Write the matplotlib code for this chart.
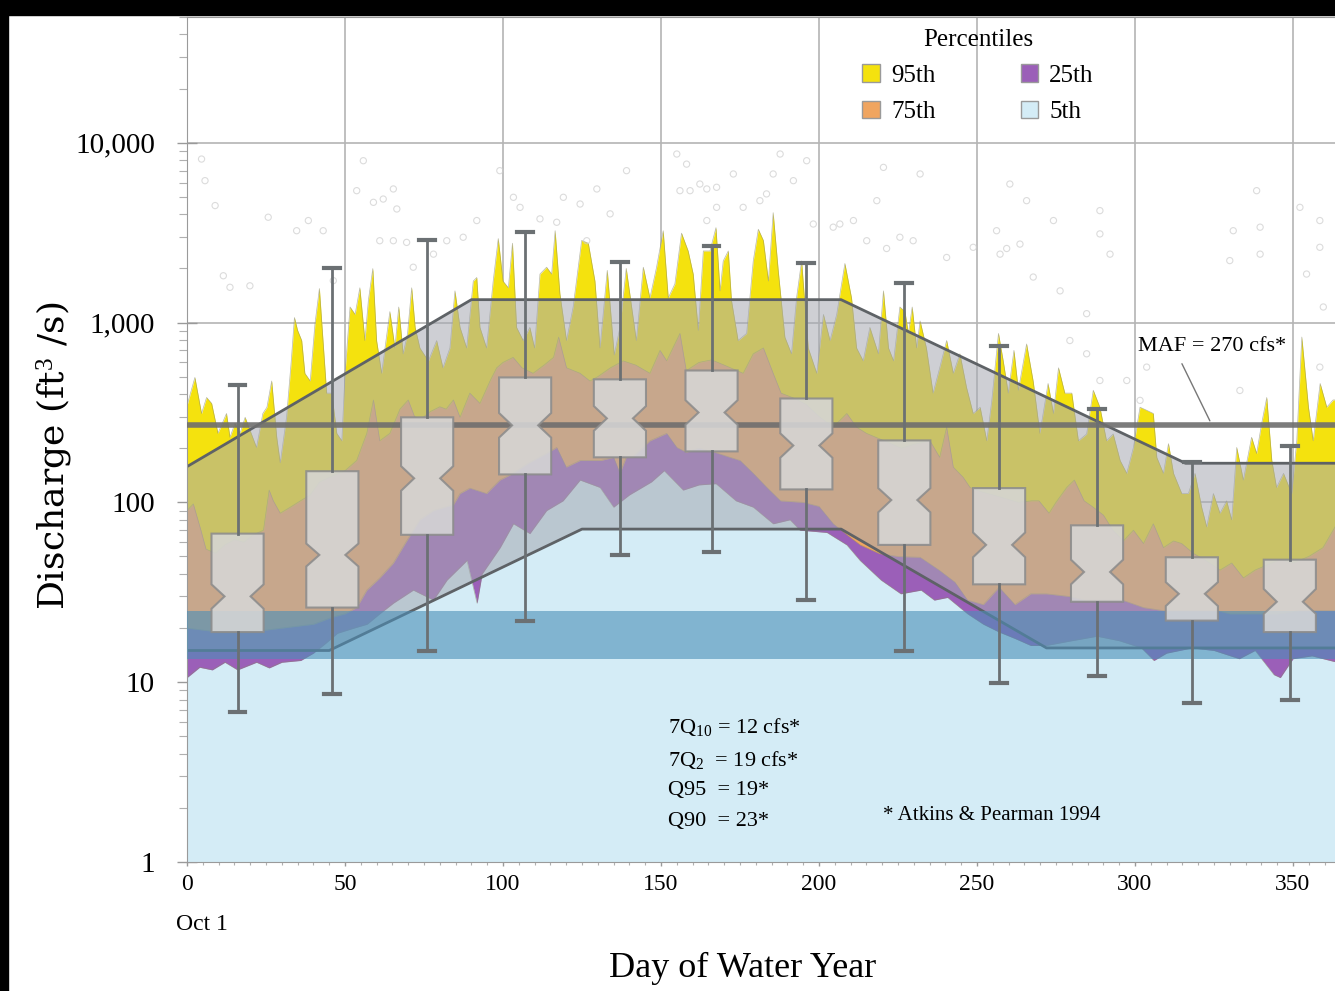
import numpy as np
import matplotlib.pyplot as plt
from matplotlib.patches import Patch, Rectangle
from matplotlib.ticker import FixedLocator, FixedFormatter, LogLocator, MultipleLocator, NullFormatter

plt.rcParams['font.family'] = ['Liberation Serif', 'DejaVu Serif']
plt.rcParams['mathtext.fontset'] = 'custom'
plt.rcParams['mathtext.rm'] = 'Liberation Serif'
plt.rcParams['mathtext.it'] = 'Liberation Serif:italic'

# daily percentile curves, (day of water year, discharge cfs)
p95_pts = [
    (0, 345), (2.5, 495), (4.6, 312), (6.2, 383), (7.8, 355), (9.8, 242), (12.5, 312), (13.6, 230),
    (15.2, 275), (16.8, 242), (18.4, 297), (20, 250), (22, 202), (24, 312), (25.3, 338), (26.8, 473),
    (28.4, 230), (29.5, 166), (31.5, 297), (33, 612), (34, 1066), (35, 905), (36.3, 794), (37.3, 522),
    (39, 473), (40.5, 985), (41.9, 1545), (43.2, 722), (44.2, 405), (45.8, 405), (47.4, 242), (49, 220),
    (50, 522), (51.6, 1220), (53.2, 1110), (54.7, 1560), (56.3, 794), (57.4, 1330), (58.8, 1995), (60, 794),
    (61.6, 522), (63.3, 870), (64.2, 1150), (65.8, 722), (67, 1220), (68.4, 670), (69.8, 870), (71.1, 1560),
    (72.2, 940), (73.7, 722), (76.4, 612), (79, 794), (81, 560), (83.2, 722), (84.8, 1500), (86.4, 940),
    (88.5, 722), (90.6, 1700), (91.7, 1780), (92.7, 940), (94.8, 722), (96.9, 1700), (98.5, 2930), (100, 1700),
    (101.7, 1560), (103, 2760), (104.3, 940), (106.4, 794), (108.5, 940), (110, 722), (111.7, 1860), (113.8, 2030),
    (115.4, 1860), (116.5, 3240), (118, 1450), (120.1, 794), (122.2, 1220), (124.9, 2860), (127, 2760), (129.1, 1700),
    (130.7, 722), (133, 1950), (135.2, 660), (137, 940), (139, 2000), (142.2, 794), (144.4, 2030), (146.5, 1370),
    (148.6, 2030), (150.7, 3240), (152.3, 1370), (154.4, 1640), (156.5, 3140), (158.6, 2500), (160.2, 1860), (161.8, 905),
    (163.4, 2500), (165.5, 2500), (167.4, 3370), (168.7, 1500), (169.7, 2200), (171.3, 2500), (172.3, 1330), (174.4, 794),
    (177.1, 870), (179.2, 2200), (180.8, 3300), (182.4, 2860), (184, 1700), (185.5, 4080), (187.1, 1950), (189.2, 830),
    (191.3, 670), (192.9, 1370), (194.5, 2200), (196.6, 722), (199.3, 522), (201.4, 1110), (203.5, 794), (205.6, 1110),
    (208.2, 2130), (210.3, 1370), (211.9, 722), (214, 612), (216.1, 940), (218.8, 670), (220.4, 1500), (222, 722),
    (223.6, 612), (225.6, 1220), (227.2, 1150), (228.3, 870), (229.5, 1220), (230.9, 722), (232, 1020), (234, 722),
    (236.1, 405), (238.2, 560), (240.4, 794), (242.5, 522), (244.6, 670), (246.7, 435), (248.8, 312), (251, 338),
    (253.1, 220), (254.7, 371), (256.8, 870), (258.3, 612), (259.9, 405), (261.7, 700), (263.1, 420), (265.7, 760),
    (267.8, 470), (269.9, 242), (272.5, 458), (274.2, 312), (275.8, 560), (277.8, 405), (280, 405), (282.1, 220),
    (284.7, 240), (286.8, 420), (288.9, 338), (291, 220), (293.1, 240), (295.3, 171), (297.4, 145), (299.5, 202),
    (301.6, 338), (303.7, 325), (305.8, 312), (306.9, 178), (309, 145), (310.6, 212), (312.2, 145), (314.8, 112),
    (316.9, 112), (319, 145), (321.1, 94), (322.7, 73), (324.8, 112), (326.9, 87), (329, 102), (330.6, 80),
    (332.2, 202), (334.3, 133), (336.9, 230), (338.5, 187), (340.1, 275), (341.7, 383), (343.3, 171), (344.8, 121),
    (347, 145), (349.6, 112), (351.2, 220), (352.8, 830), (354.9, 338), (356.4, 220), (358.6, 458), (360.7, 338),
    (362.7, 371), (363.3, 371),
]
p75_pts = [
    (0, 90), (2, 98), (4.4, 70), (6, 55), (9, 52), (12, 58), (15, 62), (18, 60), (21, 66), (24.2, 70),
    (26, 117), (27.3, 102), (29.5, 87), (32.7, 94), (35.9, 102), (39, 110), (42, 130), (46, 140), (50, 150),
    (53.7, 171), (56.9, 242), (59, 371), (61, 220), (64.2, 242), (67.4, 330), (70, 371), (72, 300), (74, 290),
    (77, 320), (80, 340), (82, 330), (84.3, 371), (86.4, 297), (89.5, 405), (92.7, 355), (95.9, 473), (98, 560),
    (100, 600), (103.2, 640), (106, 560), (109.5, 522), (113, 580), (116, 640), (117.6, 830), (120.1, 560),
    (124.4, 522), (127.5, 473), (130, 500), (134, 560), (138, 612), (142, 580), (146.5, 522), (149.7, 700),
    (151.8, 612), (156, 870), (158, 540), (162, 600), (166, 620), (170, 580), (176, 522), (179.2, 670),
    (182.4, 722), (185.5, 522), (188, 405), (192, 380), (196, 350), (200, 300), (204.5, 262), (208.8, 312),
    (211.9, 262), (215, 242), (218, 230), (222, 215), (226, 200), (230, 210), (235.1, 220), (238.2, 178),
    (240.4, 262), (242.5, 157), (245.6, 138), (247.8, 121), (251, 115), (255, 110), (259, 105), (263, 100),
    (267.3, 102), (269.6, 102), (272.8, 87), (275, 100), (278.4, 121), (280.8, 133), (283.9, 102), (286.4, 95),
    (290, 85), (293, 70), (296.3, 61), (299.5, 70), (302.7, 59), (305.8, 76), (309, 56), (312.2, 61),
    (314.8, 59), (318.5, 52), (322, 48), (326.9, 42), (330.6, 46), (334.3, 38), (338, 42), (342, 45),
    (346, 48), (350, 46), (355, 50), (359.5, 56), (363.3, 73),
]
p25_pts = [
    (0, 20), (10, 19), (20, 19), (30, 20), (40, 21), (46, 23), (50, 24), (53.7, 26), (56.9, 32.5), (61, 38),
    (65.3, 46), (69.5, 61), (73.7, 80), (78, 90), (84.3, 97), (86.4, 112), (89.5, 120), (94.8, 112), (99, 133),
    (103.2, 145), (108, 165), (113.8, 187), (117, 202), (120, 157), (124.4, 171), (128.6, 171), (131, 171),
    (135, 178), (137, 145), (139, 178), (141, 178), (146.5, 220), (151.8, 242), (155, 202), (158, 190),
    (162, 200), (167, 190), (171, 180), (175, 171), (179.2, 145), (183.5, 121), (187.8, 102), (195, 100),
    (200, 95), (204.5, 76), (209.8, 64), (213, 58), (219, 52), (225, 50), (232, 49.5), (238, 42), (243, 36),
    (247, 28.6), (252, 27), (257, 33.7), (262, 27), (267, 31), (272, 31), (279, 30), (284, 28.6), (290, 28.6),
    (296, 28.6), (302.7, 26), (309, 25), (316, 25), (326, 25), (330, 24), (338, 24), (345, 24), (352, 25),
    (358, 25), (363.3, 25),
]
p5_pts = [
    (0, 10.6), (4, 12.1), (8, 11.7), (12, 12.9), (16, 11.7), (22, 12.9), (26, 12), (30, 12.9), (36, 13.2),
    (40, 14.5), (44, 16.5), (47.6, 18.7), (52.9, 20), (57, 21), (61, 24), (65.3, 27.5), (71.6, 32.5), (78, 28.6),
    (82.3, 37), (88.6, 47.5), (91.8, 27.5), (93.4, 40), (99.1, 56), (103.3, 76), (108.5, 67), (113.8, 90),
    (119, 102), (124.4, 133), (130.7, 121), (135, 94), (140, 110), (147, 130), (151, 150), (157, 117),
    (162, 125), (167.4, 127), (173.7, 102), (179.2, 94), (185.5, 76), (190.8, 80), (194, 70), (202.5, 68),
    (208.8, 58), (213, 47.5), (219.6, 37), (225.9, 31), (232.3, 32.5), (236.5, 28.6), (240.7, 29.6), (247, 24),
    (252, 21), (257, 19), (262, 17.5), (267, 16), (272, 16), (280, 17), (288, 18), (295, 17), (302, 15.5),
    (306, 13.2), (310, 14.5), (318, 15.5), (325, 15), (333, 13.5), (338, 15), (344, 11), (346, 10.6),
    (350, 13.5), (356, 14), (363.3, 13),
]

# monthly notched boxplots
box_day = [16, 46, 76, 107, 137, 166, 196, 227, 257, 288, 318, 349]
box_lo = [6.8, 8.6, 14.9, 22, 51, 53, 28.5, 14.9, 9.9, 10.8, 7.7, 8]
box_q1 = [19, 26, 66, 143, 178, 192, 118, 58, 35, 28, 22, 19]
box_med = [30, 51, 136, 268, 293, 316, 207, 103, 58, 41, 31, 28]
box_q3 = [67, 149, 297, 495, 483, 541, 378, 221, 120, 74.5, 49.5, 48]
box_hi = [452, 2020, 2890, 3200, 2180, 2680, 2130, 1650, 736, 329, 167, 205]
notch_lo = [25.6, 44, 116, 229, 250, 270, 177, 88, 49.5, 35, 26.5, 24]
notch_hi = [35, 59, 159, 314, 343, 370, 242, 120, 68, 48, 36, 33]

# environmental flow envelope (upper and lower edges)
env_up_day = [0, 90, 207, 316, 363.3]
env_up_val = [158, 1340, 1340, 165, 165]
env_lo_day = [0, 45, 125, 207, 272, 363.3]
env_lo_val = [15, 15, 71, 71, 15.5, 15.5]

low_band = (13.4, 25)
maf = 270

# individual daily values
daily_pts = [
    (4.6, 8110), (5.7, 6150), (8.9, 4470), (11.5, 1820), (13.6, 1570), (19.9, 1600), (25.7, 3850),
    (34.7, 3240), (38.4, 3690), (43.1, 3240), (46.3, 1710), (55.8, 7940), (53.7, 5410), (59, 4660),
    (62.1, 4860), (65.3, 5530), (66.4, 4280), (61, 2850), (65.3, 2850), (69.5, 2790), (71.6, 2030),
    (78, 2400), (82.2, 2850), (87.4, 2980), (91.7, 3690), (99, 6990), (103.3, 4970), (105.4, 4370),
    (111.7, 3770), (117, 3610), (119.1, 4970), (124.4, 4560), (129.7, 5530), (126.5, 2850), (133.9, 4020),
    (139.1, 6990), (155, 8650), (158.1, 7600), (162.3, 5890), (156, 5410), (159.2, 5410), (164.5, 5530),
    (167.6, 5650), (164.5, 3690), (167.6, 4370), (172.9, 6700), (176, 4370), (181.3, 4760), (183.4, 5190),
    (185.5, 6700), (187.7, 8650), (191.9, 6150), (196.1, 7940), (198.2, 3530), (204.5, 3390), (206.6, 3530),
    (210.9, 3690), (215.1, 2850), (218.3, 4760), (220.4, 7290), (221.4, 2580), (225.6, 2980), (229.8, 2850),
    (232, 6700), (240.4, 2300), (248.8, 2620), (256.2, 3240), (257.3, 2400), (260.4, 5890), (263.6, 2730),
    (265.7, 4760), (267.8, 1790), (274.2, 3690), (288.9, 4190), (292.1, 2400), (259.4, 2580), (276.3, 1500),
    (284.7, 1120), (288.9, 3110), (279.4, 794), (284.7, 670), (303.7, 565), (331.1, 3240), (338.5, 5410),
    (339.6, 3390), (330, 2210), (339.6, 2400), (352.2, 4370), (358.5, 3690), (358.5, 2620), (354.3, 1860),
    (359.6, 1220), (288.9, 476), (297.4, 476), (301.6, 369), (333.2, 419), (358.5, 565),
]

c95, c75, c25, c5 = '#f4e20e', '#f0a560', '#9b5fb8', '#d4ecf6'

fig = plt.figure(figsize=(13.35, 9.91), dpi=100)
ax = fig.add_axes([187 / 1335, 1 - 862 / 991, 1 - 187 / 1335, (862 - 17) / 991])
ax.set_yscale('log')
ax.set_xlim(0, 363.3)
ax.set_ylim(1, 50000)
ax.set_axisbelow(True)
ax.grid(True, which='major', color='#b4b4b4', lw=1.2, zorder=0)

for pts, col in [(p95_pts, c95), (p75_pts, c75), (p25_pts, c25), (p5_pts, c5)]:
    d, v = np.array(pts).T
    ax.fill_between(d, 1, v, color=col, lw=0, zorder=1)
    ax.plot(d, v, color='#8a8a6a', lw=0.5, alpha=0.6, zorder=1.1)

dd, vv = np.array(daily_pts).T
ax.scatter(dd, vv, s=20, facecolor='none', edgecolor='#cdcdcd', lw=0.8, alpha=0.7, zorder=1.5)

env_x = np.r_[env_up_day, env_lo_day[::-1]]
env_y = np.r_[env_up_val, env_lo_val[::-1]]
ax.fill(env_x, env_y, color='#a6a9b2', alpha=0.55, lw=0, zorder=2)
ax.plot(env_up_day, env_up_val, color='#5e6266', lw=2, zorder=2.1)
ax.plot(env_lo_day, env_lo_val, color='#5e6266', lw=2, zorder=2.1)

ax.axhspan(*low_band, color='#4b8fb8', alpha=0.6, lw=0, zorder=3)
ax.axhline(maf, color='#6e6e6e', lw=4, alpha=0.9, zorder=4)

stats = [dict(med=m, q1=a, q3=b, whislo=lo, whishi=hi, cilo=nl, cihi=nh)
         for m, a, b, lo, hi, nl, nh in zip(box_med, box_q1, box_q3, box_lo, box_hi, notch_lo, notch_hi)]
ax.bxp(stats, positions=box_day, widths=16.5, shownotches=True, patch_artist=True,
       showfliers=False, capwidths=5, manage_ticks=False, zorder=6,
       boxprops=dict(facecolor='#d6d6d6', edgecolor='#8c8c8c', lw=1.5, alpha=0.88),
       whiskerprops=dict(color='#6b7073', lw=2), capprops=dict(color='#6b7073', lw=3),
       medianprops=dict(lw=0))

# axes styling
ax.yaxis.set_major_locator(FixedLocator([1, 10, 100, 1000, 10000]))
ax.yaxis.set_major_formatter(FixedFormatter(['1', '10', '100', '1,000', '10,000']))
ax.yaxis.set_minor_locator(LogLocator(base=10, subs=np.arange(2, 10)))
ax.yaxis.set_minor_formatter(NullFormatter())
ax.xaxis.set_major_locator(MultipleLocator(50))
ax.xaxis.set_minor_locator(MultipleLocator(5))
ax.tick_params(axis='y', which='major', direction='inout', length=14, width=1, color='#9a9a9a',
               pad=16, labelsize=21)
ax.tick_params(axis='y', which='minor', direction='out', length=6, width=0.8, color='#b0b0b0')
ax.tick_params(axis='x', which='major', direction='out', length=3, width=1, color='#9a9a9a',
               pad=6, labelsize=17)
ax.tick_params(axis='x', which='minor', direction='out', length=2, width=0.8, color='#b0b0b0')
for side in ['left', 'bottom', 'top']:
    ax.spines[side].set_color('#9a9a9a')
ax.spines['right'].set_visible(False)

fig.text(176 / 1335, 1 - 925 / 991, 'Oct 1', fontsize=17, ha='left', va='center')
fig.text(743 / 1335, 1 - 968 / 991, 'Day of Water Year', fontsize=26, ha='center', va='center')
fig.text(55 / 1335, 1 - 456 / 991, 'Discharge (ft$^3$ /s)', fontsize=26, rotation=90,
         ha='center', va='center', family='DejaVu Serif')

# annotations
for txt, yv in [('7Q$_{10}$ = 12 cfs*', 5.62), ('7Q$_2$  = 19 cfs*', 3.69),
                ('Q95  = 19*', 2.51), ('Q90  = 23*', 1.67)]:
    ax.text(152.2, yv, txt, fontsize=16, ha='left', va='center', zorder=8)
ax.text(220.3, 1.82, '* Atkins & Pearman 1994', fontsize=15, ha='left', va='center', zorder=8)
ax.annotate('MAF = 270 cfs*', xy=(323.7, 284), xytext=(301, 736), fontsize=16,
            ha='left', va='center', zorder=8,
            arrowprops=dict(arrowstyle='-', color='#777777', lw=1, relpos=(0.27, 0), shrinkA=4, shrinkB=0))

handles = [Patch(facecolor=c, edgecolor='#9a9a9a', lw=1) for c in [c95, c75, c25, c5]]
fig.legend(handles, ['95th', '75th', '25th', '5th'], ncol=2, title='Percentiles',
           loc='upper center', bbox_to_anchor=(978 / 1335, 1 - 16 / 991), frameon=False,
           fontsize=18, title_fontsize=18, handlelength=0.7, handleheight=0.7,
           handletextpad=0.45, columnspacing=3.4, labelspacing=0.55, borderpad=0)

# black border strips of the original screenshot
fig.patches.append(Rectangle((0, 1 - 15 / 991), 1, 15 / 991, transform=fig.transFigure,
                             color='black', zorder=10))
fig.patches.append(Rectangle((0, 0), 8 / 1335, 1, transform=fig.transFigure,
                             color='black', zorder=10))

fig.savefig('out.png', dpi=100)
